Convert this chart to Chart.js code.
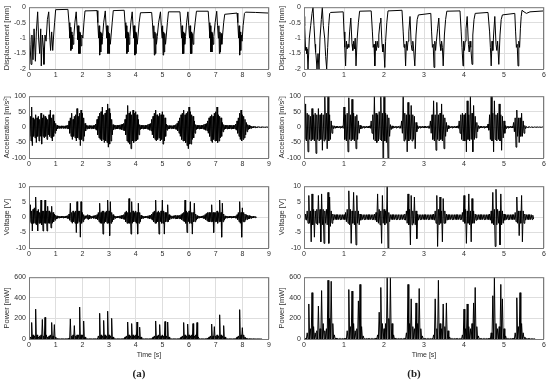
<!DOCTYPE html>
<html>
<head>
<meta charset="utf-8">
<script src="https://cdn.jsdelivr.net/npm/chart.js@4.4.0/dist/chart.umd.min.js"></script>
<style>
  body { margin: 0; width: 550px; height: 381px; background: #fff; position: relative; overflow: hidden; }
  canvas { position: absolute; }
  .tag { position: absolute; font-family: 'Liberation Serif', serif; font-size: 11px; font-weight: bold; color: #222; transform: translate(-50%, -50%); }
</style>
</head>
<body>
<canvas id="dispA" width="275" height="90" style="left:0;top:0"></canvas>
<canvas id="accA" width="275" height="90" style="left:0;top:89px"></canvas>
<canvas id="voltA" width="275" height="90" style="left:0;top:179px"></canvas>
<canvas id="powA" width="275" height="96" style="left:0;top:270px"></canvas>
<canvas id="dispB" width="275" height="90" style="left:275px;top:0"></canvas>
<canvas id="accB" width="275" height="90" style="left:275px;top:89px"></canvas>
<canvas id="voltB" width="275" height="90" style="left:275px;top:179px"></canvas>
<canvas id="powB" width="275" height="96" style="left:275px;top:270px"></canvas>
<div class="tag" style="left:139px;top:373px">(a)</div>
<div class="tag" style="left:414px;top:373px">(b)</div>
<script>
// tick labels
const timeTicksA = [0, 1, 2, 3, 4, 5, 6, 7, 8, 9];
const timeTicksB = [0, 1, 2, 3, 4, 5, 6];
const dispTicks = [-2, -1.5, -1, -0.5, 0];
const accTicks = [-100, -50, 0, 50, 100];
const voltTicks = [-10, -5, 0, 5, 10];
const powTicks = [0, 200, 400, 600];

// ---- (a) ----
// displacement [t, mm]
const dispA = [
  [0,-0.45],[0.04,-1.2],[0.075,-1.85],[0.11,-0.9],[0.15,-1.7],[0.19,-0.7],[0.24,-1.75],[0.275,-0.8],[0.325,-0.15],
  [0.36,-1.0],[0.4,-1.5],[0.44,-0.7],[0.46,-1.9],[0.5,-0.9],[0.54,-1.3],[0.56,-1.85],[0.6,-0.9],[0.64,-1.1],
  [0.69,-0.4],[0.74,-0.15],[0.775,-0.9],[0.81,-1.4],[0.85,-0.8],[0.89,-1.4],[0.925,-0.9],[0.96,-0.5],[1.0,-0.08],
  [1.46,-0.07],
  [1.5,-0.5],[1.53,-1.0],[1.55,-0.65],[1.57,-1.4],[1.59,-0.8],[1.61,-1.35],[1.63,-0.9],[1.65,-1.2],[1.68,-0.95],
  [1.72,-0.5],[1.77,-0.15],[1.8,-0.6],[1.83,-1.05],[1.85,-0.6],[1.87,-1.5],[1.89,-0.8],[1.91,-1.5],[1.93,-0.85],
  [1.95,-1.25],[1.98,-0.9],[2.02,-1.0],[2.06,-0.5],[2.1,-0.12],
  [2.55,-0.11],
  [2.58,-0.5],[2.61,-1.0],[2.63,-0.6],[2.65,-1.55],[2.67,-0.8],[2.69,-1.45],[2.71,-0.85],[2.73,-1.2],[2.76,-0.95],
  [2.8,-0.5],[2.86,-0.12],[2.89,-0.6],[2.92,-1.0],[2.94,-0.6],[2.96,-1.5],[2.98,-0.8],[3.0,-1.5],[3.02,-0.85],
  [3.05,-1.2],[3.08,-0.9],[3.12,-0.5],[3.16,-0.11],
  [3.57,-0.1],
  [3.6,-0.5],[3.63,-1.0],[3.65,-0.6],[3.67,-1.5],[3.69,-0.8],[3.71,-1.45],[3.73,-0.85],[3.75,-1.2],[3.78,-0.95],
  [3.82,-0.5],[3.87,-0.15],[3.9,-0.6],[3.93,-1.0],[3.95,-0.6],[3.97,-1.55],[3.99,-0.8],[4.01,-1.5],[4.03,-0.85],
  [4.06,-1.2],[4.09,-0.9],[4.13,-0.5],[4.18,-0.18],
  [4.6,-0.17],
  [4.63,-0.5],[4.66,-1.0],[4.68,-0.6],[4.7,-1.55],[4.72,-0.8],[4.74,-1.5],[4.76,-0.85],[4.78,-1.2],[4.81,-0.95],
  [4.86,-0.5],[4.93,-0.15],[4.96,-0.6],[4.99,-1.0],[5.01,-0.6],[5.03,-1.55],[5.05,-0.8],[5.07,-1.45],[5.09,-0.85],
  [5.12,-1.2],[5.15,-0.9],[5.19,-0.5],[5.23,-0.15],
  [5.66,-0.15],
  [5.69,-0.5],[5.72,-1.0],[5.74,-0.6],[5.76,-1.5],[5.78,-0.8],[5.8,-1.5],[5.82,-0.85],[5.84,-1.2],[5.87,-0.95],
  [5.91,-0.5],[5.96,-0.15],[5.99,-0.6],[6.02,-1.0],[6.04,-0.6],[6.06,-1.5],[6.08,-0.8],[6.1,-1.5],[6.12,-0.85],
  [6.15,-1.2],[6.18,-0.9],[6.23,-0.5],[6.28,-0.13],
  [6.72,-0.13],
  [6.75,-0.5],[6.78,-1.0],[6.8,-0.6],[6.82,-1.45],[6.84,-0.8],[6.86,-1.45],[6.88,-0.85],[6.9,-1.2],[6.93,-0.95],
  [6.98,-0.5],[7.04,-0.13],[7.07,-0.6],[7.1,-1.0],[7.12,-0.6],[7.14,-1.5],[7.16,-0.8],[7.18,-1.45],[7.2,-0.85],
  [7.23,-1.2],[7.26,-0.9],[7.3,-0.5],[7.34,-0.23],
  [7.8,-0.19],
  [7.83,-0.5],[7.86,-1.0],[7.88,-0.6],[7.9,-1.55],[7.92,-0.8],[7.94,-1.4],[7.96,-0.9],[7.99,-1.1],[8.03,-0.6],
  [8.08,-0.2],[8.12,-0.16],[8.5,-0.17],[9,-0.19]
];

// acceleration envelope, one max/min per 0.05 s
const accA_hi = [
  25,35,65,30,25,40,30,35,25,45,30,40,35,30,25,40,55,30,40,20,
  12,6,4,4,4,4,4,4,5,6,20,30,45,25,35,40,60,35,45,55,
  45,30,12,6,5,5,5,5,5,6,10,25,35,45,50,65,40,45,55,75,
  60,45,25,8,6,6,6,6,7,8,10,12,25,40,70,45,50,40,55,45,
  50,40,25,8,6,6,6,6,6,8,10,12,25,35,45,55,40,35,45,40,
  50,40,30,10,6,5,5,5,5,6,8,12,20,30,40,45,55,40,45,50,
  65,50,40,35,20,8,6,6,6,6,6,8,10,12,20,30,35,40,35,45,
  50,65,40,35,30,15,8,6,6,6,6,6,6,6,6,10,20,30,45,55,
  40,35,25,15,8,6,4,3,2,2,2,1,1,1,1,0.5,0.5,0.5,0.5,0.5
];
const accA_lo = [
  -30,-45,-60,-30,-35,-50,-30,-45,-30,-55,-30,-35,-30,-40,-25,-30,-35,-45,-30,-20,
  -12,-6,-4,-4,-4,-4,-4,-4,-5,-6,-20,-30,-40,-30,-35,-45,-35,-40,-60,-40,
  -45,-30,-12,-6,-5,-5,-5,-5,-5,-6,-10,-25,-35,-40,-45,-40,-50,-45,-50,-65,
  -55,-45,-25,-8,-6,-6,-6,-6,-7,-8,-10,-12,-25,-45,-50,-55,-70,-45,-50,-45,
  -45,-40,-25,-8,-6,-6,-6,-6,-6,-8,-10,-12,-25,-35,-40,-45,-40,-35,-45,-40,
  -55,-45,-30,-10,-6,-5,-5,-5,-5,-6,-8,-12,-20,-30,-40,-45,-45,-50,-60,-70,
  -55,-55,-40,-35,-20,-8,-6,-6,-6,-6,-6,-8,-10,-12,-20,-30,-45,-50,-40,-45,
  -45,-50,-45,-35,-30,-15,-8,-6,-6,-6,-6,-6,-6,-6,-6,-10,-20,-30,-40,-45,
  -40,-35,-25,-15,-8,-6,-4,-3,-2,-2,-2,-1,-1,-1,-1,-0.5,-0.5,-0.5,-0.5,-0.5
];

// voltage envelope, 0.05 s, ends at 8.5 s
const voltA_hi = [
  1.5,4,2,2.5,3,6.5,2,2.5,1.5,5.5,2,2,5.5,2,3.5,2,1.5,3.5,1.5,1,
  0.6,0.4,0.3,0.3,0.3,0.3,0.3,0.3,0.4,0.5,1,4.5,1.5,2,1.5,2,5,2,2,5,
  1.5,0.8,0.4,0.5,0.8,0.6,0.4,0.3,0.4,0.5,0.6,0.8,1.5,4.5,1.5,2,2,1.5,2,5.5,
  2,5,1.5,0.8,0.4,0.3,0.3,0.3,0.4,0.5,0.6,0.8,1.5,2,1.5,6,1.5,5,2,1.5,
  2,1.5,4.5,1.5,0.6,0.4,0.3,0.3,0.3,0.4,0.5,0.6,1,1.5,2,5.5,1.5,2,1.5,2,
  5.5,2,1.5,1.5,4,0.8,0.5,0.4,0.4,0.5,0.6,0.5,0.5,0.6,0.8,1.2,1.5,5.5,2,1.5,
  2,5,1.5,1.5,4.5,1,0.5,0.3,0.3,0.3,0.4,0.5,0.8,1.2,1.5,1.5,1.5,4,1.5,1.5,
  1.5,2,1.5,5.5,1.5,4.5,1,0.4,0.3,0.3,0.3,0.3,0.3,0.3,0.3,0.4,0.8,1.5,5,1.5,
  3,1.5,1,0.8,0.6,0.5,0.4,0.3,0.3,0.2,0.2
];
const voltA_lo = [
  -1.5,-2,-4.5,-2,-2,-2.5,-4.5,-2,-2,-2.5,-4.5,-2,-2,-4.5,-2,-2,-3.5,-2,-1.5,-1,
  -0.6,-0.4,-0.3,-0.3,-0.3,-0.3,-0.3,-0.3,-0.4,-0.5,-1,-1.5,-2,-1.5,-2,-5,-2,-1.5,-6.5,-2,
  -1.5,-0.8,-0.4,-0.5,-0.8,-0.6,-0.4,-0.3,-0.4,-0.5,-0.6,-0.8,-1.5,-2,-2,-5.5,-2,-1.5,-2,-2,
  -6,-2,-1.5,-0.8,-0.4,-0.3,-0.3,-0.3,-0.4,-0.5,-0.6,-0.8,-1.5,-2,-2,-2,-5.5,-2,-1.5,-1.5,
  -2,-5.5,-2,-1.5,-0.6,-0.4,-0.3,-0.3,-0.3,-0.4,-0.5,-0.6,-1,-1.5,-2,-2,-1.5,-5.5,-1.5,-2,
  -2,-5.5,-1.5,-1.5,-1.5,-0.8,-0.5,-0.4,-0.4,-0.5,-0.6,-0.5,-0.5,-0.6,-0.8,-1.2,-1.5,-2,-5,-1.5,
  -2,-2,-5.5,-1.5,-1.5,-1,-0.5,-0.3,-0.3,-0.3,-0.4,-0.5,-0.8,-1.2,-1.5,-1.5,-1.5,-1.5,-5,-1.5,
  -1.5,-2,-1.5,-1.5,-6.5,-1.5,-1,-0.4,-0.3,-0.3,-0.3,-0.3,-0.3,-0.3,-0.3,-0.4,-0.8,-1.5,-2,-6.5,
  -1.5,-1.5,-1,-0.8,-0.6,-0.5,-0.4,-0.3,-0.3,-0.2,-0.2
];

// power peaks, 0.05 s
const powA = [
  5,20,160,40,30,290,40,20,30,40,190,30,210,40,20,30,40,160,30,140,
  20,4,2,2,2,2,2,2,2,3,10,195,30,40,130,30,40,40,310,40,
  40,175,20,3,2,2,2,2,2,2,3,5,30,250,40,30,180,40,30,270,
  40,30,200,20,4,2,2,2,2,2,3,4,20,30,165,40,30,150,40,30,
  40,165,30,115,20,3,2,2,2,2,2,3,5,20,30,175,30,40,140,30,
  40,30,170,30,165,20,3,2,2,2,2,2,3,5,20,30,160,40,30,145,
  40,30,40,150,30,40,160,20,3,2,2,2,3,5,10,20,30,145,30,120,
  30,40,30,235,40,30,130,20,3,2,2,2,2,2,3,5,20,30,285,40,
  110,40,20,10,5,3,2,2,2,1,1,1,1,1,1
];

// ---- (b) ----
const dispB = [
  [0,-0.3],[0.017,-0.6],[0.04,-1.4],[0.055,-1.3],[0.067,-1.5],[0.08,-1.35],[0.1,-2.0],[0.133,-1.0],[0.167,-0.6],
  [0.2,-0.2],[0.225,0],[0.25,-0.6],[0.275,-1.2],[0.29,-1.45],[0.3,-1.55],[0.325,-2.0],[0.35,-1.5],[0.375,-2.0],
  [0.4,-1.0],[0.433,-0.4],[0.458,0],[0.483,-0.6],[0.517,-1.0],[0.542,-1.6],[0.567,-2.0],[0.592,-1.3],[0.617,-0.6],
  [0.642,-0.2],[0.667,-0.17],
  [0.98,-0.15],
  [1.0,-0.8],[1.02,-1.3],[1.04,-1.9],[1.06,-1.1],[1.08,-1.35],[1.1,-1.2],[1.12,-1.3],[1.14,-0.8],[1.17,-0.35],
  [1.2,-1.2],[1.22,-1.4],[1.24,-1.1],[1.26,-1.35],[1.28,-1.0],[1.3,-1.9],[1.33,-1.0],[1.36,-0.5],[1.39,-0.13],
  [1.68,-0.12],
  [1.71,-0.8],[1.73,-1.3],[1.75,-1.2],[1.77,-1.9],[1.79,-1.1],[1.81,-1.4],[1.83,-1.1],[1.85,-1.3],[1.87,-0.9],
  [1.9,-0.5],[1.92,-0.35],[1.95,-1.2],[1.97,-1.45],[1.99,-1.2],[2.02,-1.95],[2.04,-1.1],[2.07,-0.5],[2.1,-0.12],
  [2.45,-0.1],
  [2.48,-0.8],[2.5,-1.3],[2.52,-1.2],[2.54,-1.9],[2.56,-1.1],[2.58,-1.4],[2.6,-1.1],[2.62,-0.8],[2.65,-0.3],
  [2.68,-1.2],[2.7,-1.4],[2.72,-1.1],[2.74,-1.35],[2.77,-1.9],[2.8,-0.9],[2.83,-0.4],[2.86,-0.25],
  [3.17,-0.2],
  [3.19,-0.8],[3.21,-1.3],[3.23,-1.2],[3.25,-1.95],[3.27,-1.1],[3.29,-1.4],[3.31,-1.1],[3.34,-0.7],[3.37,-0.35],
  [3.4,-1.2],[3.42,-1.4],[3.44,-1.1],[3.46,-1.3],[3.48,-1.9],[3.51,-0.9],[3.54,-0.4],[3.57,-0.13],
  [3.9,-0.12],
  [3.93,-0.8],[3.95,-1.3],[3.975,-1.9],[3.99,-1.1],[4.01,-1.4],[4.03,-1.1],[4.05,-0.7],[4.08,-0.3],[4.11,-1.2],
  [4.13,-1.45],[4.15,-1.1],[4.17,-1.3],[4.2,-1.85],[4.22,-0.9],[4.25,-0.4],[4.28,-0.2],
  [4.6,-0.17],
  [4.64,-0.8],[4.66,-1.3],[4.68,-1.9],[4.7,-1.1],[4.72,-1.4],[4.74,-0.9],[4.77,-0.3],[4.8,-1.2],[4.82,-1.4],
  [4.84,-1.1],[4.87,-1.85],[4.9,-0.9],[4.93,-0.4],[4.96,-0.25],
  [5.27,-0.2],
  [5.29,-0.8],[5.31,-1.3],[5.33,-1.2],[5.35,-1.9],[5.37,-1.1],[5.39,-1.3],[5.41,-0.7],[5.43,-0.3],[5.45,-0.1],
  [5.5,-0.15],[5.56,-0.2],[5.65,-0.15],[6,-0.12]
];

// acceleration envelope, one max/min per 0.04 s
const accB_hi = [
  40,75,45,40,35,60,40,45,40,60,40,45,40,100,45,100,40,20,5,4,3,3,3,3,4,
  65,40,45,95,40,90,45,35,40,20,6,4,3,3,3,3,4,20,40,100,45,40,50,100,45,
  100,45,40,30,8,4,3,3,3,3,4,20,100,45,40,80,40,70,40,35,15,5,3,3,3,
  3,3,3,4,20,40,85,40,80,40,45,75,40,30,15,5,3,3,3,3,3,4,20,40,45,
  40,45,85,40,100,45,70,35,15,5,3,3,3,3,3,10,40,100,45,85,40,45,75,40,35,
  20,5,3,3,3,3,15,30,55,30,30,45,20,5,2,1,1,1,1,0.5,0.5,0.5,0.5,0.5,0.5
];
const accB_lo = [
  -40,-45,-80,-40,-45,-40,-45,-85,-40,-45,-40,-75,-45,-40,-70,-45,-40,-20,-5,-4,-3,-3,-3,-3,-4,
  -40,-45,-80,-40,-45,-40,-45,-70,-40,-20,-6,-4,-3,-3,-3,-3,-4,-20,-40,-45,-50,-45,-40,-45,-100,
  -45,-50,-100,-30,-8,-4,-3,-3,-3,-3,-4,-20,-45,-40,-80,-45,-40,-45,-40,-70,-15,-5,-3,-3,-3,
  -3,-3,-3,-4,-20,-40,-45,-75,-40,-45,-40,-45,-70,-30,-15,-5,-3,-3,-3,-3,-3,-4,-20,-40,-45,
  -45,-80,-40,-45,-40,-80,-40,-35,-15,-5,-3,-3,-3,-3,-3,-10,-40,-45,-80,-40,-45,-40,-45,-75,-35,
  -20,-5,-3,-3,-3,-3,-15,-65,-30,-50,-30,-30,-20,-5,-2,-1,-1,-1,-1,-0.5,-0.5,-0.5,-0.5,-0.5,-0.5
];

// voltage envelope, 0.04 s, ends at 5.72 s
const voltB_hi = [
  0.8,1,2,7,2,7.5,2.5,2,2.5,7,2.5,7.5,2.5,2,2.5,8,6.5,2,1,0.8,0.8,0.8,0.8,0.8,0.8,
  0.8,1.5,2.5,8.5,2.5,2,8,2,7,2,1,0.8,0.8,0.8,0.8,0.8,0.8,0.8,0.8,1,1.5,7.5,2.5,2,7,
  2.5,2,10,1.5,0.8,0.8,0.8,0.8,0.8,0.8,0.8,0.8,0.8,1,2,7.5,2.5,7,2,6.5,2,1,0.8,0.8,0.8,
  0.8,0.8,0.8,0.8,0.8,0.8,1,2,7,2.5,6.5,2,6,2,1,0.8,0.8,0.8,0.8,0.8,0.8,0.8,0.8,0.8,1.5,
  7,2.5,2,7.5,2,6,2,1,0.8,0.8,0.8,0.8,0.8,0.8,0.8,0.8,1,2,8,2.5,9,2.5,2,7.5,2,
  1,0.8,0.8,0.8,0.8,0.8,0.8,1.5,6.5,2,2,7,2,1,0.8,0.8,0.8,0.8,0.6
];
const voltB_lo = [
  -0.8,-1,-2,-2,-8,-2.5,-6.5,-2,-2.5,-2,-8,-2.5,-8.5,-2,-2.5,-8.5,-3,-2,-1,-0.8,-0.8,-0.8,-0.8,-0.8,-0.8,
  -0.8,-1.5,-2,-2.5,-8.5,-2,-2.5,-9,-2,-2.5,-1,-0.8,-0.8,-0.8,-0.8,-0.8,-0.8,-0.8,-0.8,-1,-1.5,-2,-2.5,-8.5,-2,
  -2.5,-2,-10,-1.5,-0.8,-0.8,-0.8,-0.8,-0.8,-0.8,-0.8,-0.8,-0.8,-1,-2,-2.5,-9,-2.5,-2,-2.5,-7,-1,-0.8,-0.8,-0.8,
  -0.8,-0.8,-0.8,-0.8,-0.8,-0.8,-1,-2,-9.5,-2.5,-2,-8,-2,-2,-1,-0.8,-0.8,-0.8,-0.8,-0.8,-0.8,-0.8,-0.8,-0.8,-1.5,
  -2,-8.5,-2,-2.5,-8,-2,-2,-1,-0.8,-0.8,-0.8,-0.8,-0.8,-0.8,-0.8,-0.8,-1,-2,-2.5,-9.5,-2.5,-2,-9,-2.5,-2,
  -1,-0.8,-0.8,-0.8,-0.8,-0.8,-0.8,-1.5,-2,-6,-2,-8,-2,-1,-0.8,-0.8,-0.8,-0.8,-0.6
];

// power peaks, 0.04 s
const powB = [
  5,10,60,340,100,450,120,60,80,320,100,470,150,80,100,570,200,560,150,40,10,5,5,5,5,
  5,10,80,480,120,465,150,80,100,370,530,120,30,5,5,5,5,5,5,5,10,40,260,500,150,
  100,150,600,200,600,150,40,10,5,5,5,5,5,10,60,530,150,390,120,100,350,150,490,100,30,
  5,5,5,5,5,5,40,390,100,570,150,100,340,120,350,80,20,5,5,5,5,5,5,5,40,
  290,100,340,120,100,150,350,500,120,30,5,5,5,5,5,5,10,60,420,600,150,100,120,530,390,
  100,30,5,5,5,5,10,60,400,120,450,150,60,20,5,5,5,3,3,2
];

// turn a max/min list into a dense trace for the line renderer
function trace(hi, lo, dt) {
  const pts = [];
  hi.forEach((h, i) => {
    pts.push({ x: i * dt, y: h });
    pts.push({ x: i * dt + dt / 2, y: lo ? lo[i] : 0 });
  });
  return pts;
}

const TICK_FONT = { family: "'Liberation Sans', Arial, sans-serif", size: 7 };
const TITLE_FONT = { family: "'Liberation Sans', Arial, sans-serif", size: 7.5 };
const TEXT = '#2e2e2e';

const boxPlugin = {
  id: 'box',
  afterDatasetsDraw(chart) {
    const { ctx, chartArea: a } = chart;
    ctx.save();
    ctx.strokeStyle = '#7a7a7a';
    ctx.lineWidth = 1;
    ctx.strokeRect(a.left + 0.5, a.top + 0.5, a.width - 1, a.height);
    ctx.restore();
  }
};

function panel(id, points, xTicks, yTicks, yTitle, bottom) {
  new Chart(document.getElementById(id), {
    type: 'line',
    data: {
      datasets: [{
        data: points,
        borderColor: '#000',
        borderWidth: 1,
        pointRadius: 0,
        tension: 0,
        fill: false
      }]
    },
    options: {
      responsive: false,
      animation: false,
      events: [],
      layout: { padding: { top: 5, right: 6, left: 0, bottom: 0 } },
      plugins: { legend: { display: false }, tooltip: { enabled: false } },
      scales: {
        x: {
          type: 'linear',
          min: xTicks[0],
          max: xTicks[xTicks.length - 1],
          afterBuildTicks: s => { s.ticks = xTicks.map(v => ({ value: v })); },
          afterFit: s => { s.height = bottom ? 27 : 21; },
          ticks: { font: TICK_FONT, color: TEXT, padding: 2, maxRotation: 0, callback: v => String(v) },
          grid: { color: '#dedede', drawTicks: false },
          border: { display: false },
          title: {
            display: bottom,
            text: 'Time [s]',
            font: TICK_FONT,
            color: TEXT,
            padding: { top: 0, bottom: 7 }
          }
        },
        y: {
          min: yTicks[0],
          max: yTicks[yTicks.length - 1],
          afterBuildTicks: s => { s.ticks = yTicks.map(v => ({ value: v })); },
          afterFit: s => { s.width = 29; },
          ticks: { font: TICK_FONT, color: TEXT, padding: 3, callback: v => String(v) },
          grid: { color: '#dedede', drawTicks: false },
          border: { display: false },
          title: {
            display: true,
            text: yTitle,
            font: TITLE_FONT,
            color: TEXT,
            padding: { top: 2, bottom: 0 }
          }
        }
      }
    },
    plugins: [boxPlugin]
  });
}

const dispLine = pairs => pairs.map(p => ({ x: p[0], y: p[1] }));

panel('dispA', dispLine(dispA), timeTicksA, dispTicks, 'Displacement [mm]', false);
panel('accA', trace(accA_hi, accA_lo, 0.05), timeTicksA, accTicks, 'Acceleration [m/s²]', false);
panel('voltA', trace(voltA_hi, voltA_lo, 0.05), timeTicksA, voltTicks, 'Voltage [V]', false);
panel('powA', trace(powA, null, 0.05), timeTicksA, powTicks, 'Power [mW]', true);

panel('dispB', dispLine(dispB), timeTicksB, dispTicks, 'Displacement [mm]', false);
panel('accB', trace(accB_hi, accB_lo, 0.04), timeTicksB, accTicks, 'Acceleration [m/s²]', false);
panel('voltB', trace(voltB_hi, voltB_lo, 0.04), timeTicksB, voltTicks, 'Voltage [V]', false);
panel('powB', trace(powB, null, 0.04), timeTicksB, powTicks, 'Power [mW]', true);
</script>
</body>
</html>
